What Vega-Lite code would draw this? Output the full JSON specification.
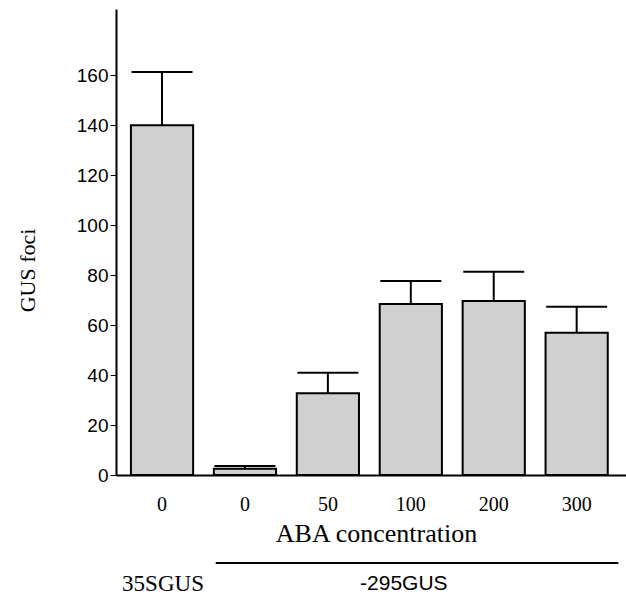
{
  "$schema": "https://vega.github.io/schema/vega-lite/v6.json",
  "autosize": "none",
  "padding": {"left": 116, "top": 9, "right": 0, "bottom": 120},
  "width": 510,
  "height": 466,
  "background": "white",
  "config": {"view": {"stroke": null}},
  "datasets": {
    "bars": [
      {"key": "35SGUS|0", "grp": "35SGUS", "aba": "0", "mean": 140, "upper": 161.3},
      {"key": "-295GUS|0", "grp": "-295GUS", "aba": "0", "mean": 2.5, "upper": 3.6},
      {"key": "-295GUS|50", "grp": "-295GUS", "aba": "50", "mean": 32.7, "upper": 40.9},
      {"key": "-295GUS|100", "grp": "-295GUS", "aba": "100", "mean": 68.4, "upper": 77.6},
      {"key": "-295GUS|200", "grp": "-295GUS", "aba": "200", "mean": 69.6, "upper": 81.3},
      {"key": "-295GUS|300", "grp": "-295GUS", "aba": "300", "mean": 56.9, "upper": 67.3}
    ],
    "groups": [
      {"grp": "35SGUS", "center": "35SGUS|0", "first": "35SGUS|0", "last": "35SGUS|0"},
      {"grp": "-295GUS", "center": "-295GUS|100", "first": "-295GUS|0", "last": "-295GUS|300"}
    ]
  },
  "layer": [
    {
      "data": {"name": "bars"},
      "mark": {"type": "bar", "fill": "#d0d0d0", "stroke": "black", "strokeWidth": 2},
      "encoding": {
        "x": {
          "field": "key", "type": "nominal",
          "scale": {
            "domain": ["35SGUS|0", "-295GUS|0", "-295GUS|50", "-295GUS|100", "-295GUS|200", "-295GUS|300"],
            "paddingInner": 0.25, "paddingOuter": 0.2, "align": 0.45
          },
          "axis": {
            "title": "ABA concentration",
            "titleFont": "Liberation Serif, Times New Roman, serif", "titleFontSize": 26, "titleFontWeight": "normal", "titleColor": "black",
            "titleX": 260, "titleY": 58, "titleAlign": "center", "titleBaseline": "middle",
            "labelExpr": "split(datum.value, '|')[1]",
            "labelFont": "Liberation Serif, Times New Roman, serif", "labelFontSize": 20, "labelColor": "black", "labelAngle": 0,
            "labelPadding": 25, "labelBaseline": "top",
            "tickSize": -6, "tickColor": "black", "tickWidth": 1,
            "domainColor": "black", "domainWidth": 2
          }
        },
        "y": {
          "field": "mean", "type": "quantitative",
          "scale": {"domain": [0, 186.5], "nice": false},
          "axis": {
            "title": "GUS foci",
            "titleFont": "Liberation Serif, Times New Roman, serif", "titleFontSize": 22, "titleFontWeight": "normal", "titleColor": "black",
            "titleX": -89, "titleY": 261, "titleAlign": "center", "titleBaseline": "middle", "titleAngle": -90,
            "values": [0, 10, 20, 30, 40, 50, 60, 70, 80, 90, 100, 110, 120, 130, 140, 150, 160],
            "labelExpr": "datum.value % 20 == 0 ? datum.label : ''",
            "labelFont": "Liberation Sans, Arial, sans-serif", "labelFontSize": 19, "labelColor": "black", "labelPadding": 2,
            "tickSize": 6, "tickColor": "black", "tickWidth": 1,
            "domainColor": "black", "domainWidth": 2, "grid": false
          }
        }
      }
    },
    {
      "data": {"name": "bars"},
      "mark": {"type": "rule", "stroke": "black", "strokeWidth": 2},
      "encoding": {
        "x": {"field": "key", "type": "nominal"},
        "y": {"field": "mean", "type": "quantitative"},
        "y2": {"field": "upper"}
      }
    },
    {
      "data": {"name": "bars"},
      "mark": {"type": "tick", "orient": "horizontal", "color": "black", "size": 61, "thickness": 2, "opacity": 1},
      "encoding": {
        "x": {"field": "key", "type": "nominal"},
        "y": {"field": "upper", "type": "quantitative"}
      }
    },
    {
      "mark": {"type": "rule", "stroke": "black", "strokeWidth": 2},
      "encoding": {"y": {"datum": 186.5}}
    },
    {
      "data": {"name": "groups"},
      "transform": [{"filter": "datum.grp == '-295GUS'"}],
      "mark": {"type": "rule", "stroke": "black", "strokeWidth": 2},
      "encoding": {
        "x": {"field": "first", "type": "nominal", "bandPosition": 0.03},
        "x2": {"field": "last", "bandPosition": 1.17},
        "y": {"datum": -35.2}
      }
    },
    {
      "data": {"name": "groups"},
      "transform": [{"filter": "datum.grp == '-295GUS'"}],
      "mark": {"type": "text", "font": "Liberation Sans, Arial, sans-serif", "fontSize": 21, "color": "black", "baseline": "middle", "dx": -7},
      "encoding": {
        "x": {"field": "center", "type": "nominal"},
        "y": {"datum": -43.6},
        "text": {"field": "grp"}
      }
    },
    {
      "data": {"name": "groups"},
      "transform": [{"filter": "datum.grp == '35SGUS'"}],
      "mark": {"type": "text", "font": "Liberation Serif, Times New Roman, serif", "fontSize": 23, "color": "black", "baseline": "middle", "dx": 1},
      "encoding": {
        "x": {"field": "center", "type": "nominal"},
        "y": {"datum": -43.6},
        "text": {"field": "grp"}
      }
    }
  ]
}
